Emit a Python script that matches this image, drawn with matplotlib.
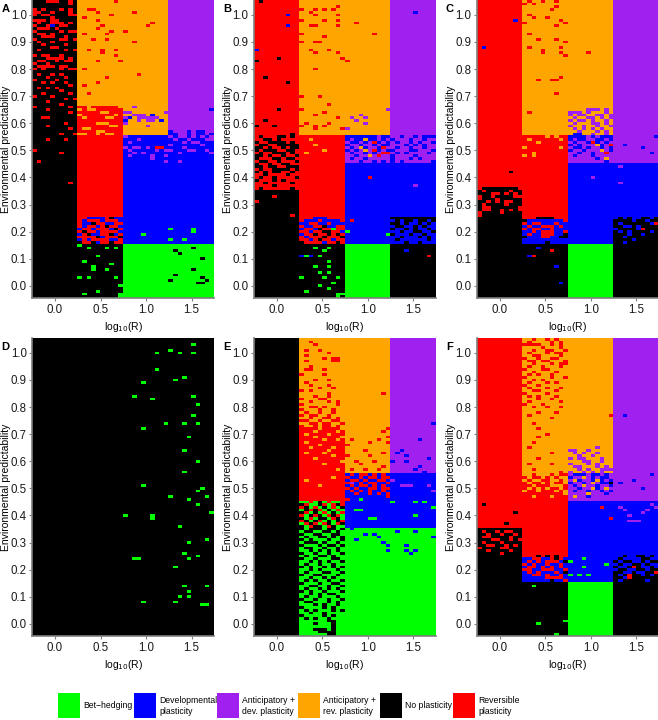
import numpy as np
import matplotlib.pyplot as plt
from matplotlib.colors import ListedColormap
from matplotlib.patches import Rectangle

plt.rcParams['font.family'] = ['Liberation Sans', 'DejaVu Sans']

# strategy categories, in legend order
cat_codes = ['G', 'B', 'P', 'O', 'K', 'R']
cat_labels = ['Bet\u2212hedging', 'Developmental\nplasticity', 'Anticipatory +\ndev. plasticity',
              'Anticipatory +\nrev. plasticity', 'No plasticity', 'Reversible\nplasticity']
cat_colors = ['#00FF00', '#0000FF', '#A020F0', '#FFA500', '#000000', '#FF0000']

# cell centres: log10(R) and environmental predictability
log_r = np.linspace(-0.225, 1.725, 40)
pred = np.linspace(-0.04, 1.05, 110)

x_ticks = [0.0, 0.5, 1.0, 1.5]
y_ticks = [0.0, 0.1, 0.2, 0.3, 0.4, 0.5, 0.6, 0.7, 0.8, 0.9, 1.0]
panel_names = ['A', 'B', 'C', 'D', 'E', 'F']

# ---------------- panel A ----------------
a_blocks = [
    (-0.3, 0.25, -0.05, 1.06, 'K'),
    (0.25, 1.25, 0.655, 1.06, 'O'),
    (0.75, 1.25, 0.555, 0.655, 'O'),
    (0.25, 0.75, 0.155, 0.655, 'R'),
    (0.25, 0.75, -0.05, 0.155, 'K'),
    (0.75, 1.8, 0.155, 0.555, 'B'),
    (1.25, 1.8, 0.555, 1.06, 'P'),
    (0.75, 1.8, -0.05, 0.155, 'G'),
]
a_patches = [
    (-0.225, 1.05, [
        "...RRR..R.", "........R.", "..........", "R.R...R.R.", "RR..R...R.",
        "R.RR....RR", "....R.....", "RRR.RR....", ".R..RRR.R.", "R..RB.RR..",
        ".RRR.R....", "R.....R.RR", ".RR.R.....", "..RRR..R..", "R.....RR.R",
        ".R..R.....", "..R....R..", "....RR....", ".R.....R.R", "..........",
        "R.RR..R...", "...RRRR.R.", ".RR..R.RR.", "R..R......", ".RRRR.RR..",
        "R.R...R.RR", "..........", ".R..R.R...", "...R...R..", "R....R....",
        "..R.R..R..", "........R.", ".R.R.R....", "......R...", "..R.....R.",
        "R...R.....", ".......R.R", "...R......", "......R...", "R.......R.",
        "...R......", "........R.", "..........", "..RR......", "..........",
        ".......R..", "...R......", "........R.", "..........", "......R..R",
        "..........", "...R...R..", "..........", "..........", "..........",
        "R.........", "......R...", "..........", "..........", ".R........",
        ".........."]),
    (0.275, 0.66, [
        "RRORRRRRRO", "OROORRRRRR", "RRRRROORRR", "ORRRRRRROR", "RORRRROORR",
        "RRRRRRRRRR", "RRRROOORRR", "RRRRRRROOR", "ROORRRRRRR", "RRRROORRRR",
        "OORROROORR", "RRRRRRRRRR"]),
    (0.775, 0.66, [
        "..P.......", "..........", "PP.......P", "..PPP.B...", "PB.PPPPP..",
        "B..P.PP.B.", "P.........", ".....P....", "..........", ".........."]),
    (0.775, 0.57, [
        "..........B...B.BB..", "..........BB.PB.BBPB", "P.........P.PP.P.P.P",
        "...P.......P..P...PP", ".P...........P.PP...", "..........P......P..",
        "P.PP.P.RR....P......", ".P.....P.PP...PP..P.", "..P.P.......P......P",
        ".P....P..P..........", "......P.............", ".........P..P......."]),
    (0.275, 0.25, [
        "..BBBB.KBB", ".BRRRBRRRB", "RBBKRRBBRR", "RBRRBRKRRB", "BRRBRRRBKR",
        "RKRRBRRRRB", "BRKBBRRKBR", "RRRRKBRRRK", "BRBRRRRBBR", "KRRKBRRKRR"]),
]
a_specks = [
    (0.175, 0.38, 'R'), (1.725, 0.65, 'B'),
    (0.675, 1.05, 'R'), (0.375, 1.02, 'R'), (0.475, 1.01, 'R'), (0.625, 1.00, 'R'),
    (0.325, 0.99, 'R'), (0.475, 0.98, 'R'), (0.875, 1.01, 'R'), (1.025, 0.96, 'R'),
    (1.075, 0.97, 'R'), (0.475, 0.95, 'R'), (0.625, 0.94, 'R'), (0.775, 0.94, 'R'),
    (0.325, 0.93, 'R'), (0.525, 0.96, 'R'), (0.575, 0.93, 'R'), (0.425, 0.91, 'R'),
    (0.575, 0.91, 'R'), (0.875, 0.90, 'R'), (0.375, 0.87, 'R'), (0.675, 0.87, 'R'),
    (0.525, 0.86, 'R'), (0.475, 0.83, 'R'), (0.675, 0.85, 'R'), (0.725, 0.83, 'R'),
    (0.325, 0.80, 'R'), (0.925, 0.78, 'R'), (0.575, 0.77, 'R'), (0.475, 0.75, 'R'),
    (0.325, 0.74, 'R'), (0.375, 0.71, 'R'), (0.425, 1.02, 'R'), (0.525, 0.87, 'R'),
    (0.975, 0.19, 'G'), (1.275, 0.21, 'G'), (1.275, 0.17, 'G'), (1.525, 0.20, 'G'),
    (1.525, 0.21, 'G'), (1.425, 0.17, 'G'),
    (1.325, 0.13, 'K'), (1.375, 0.12, 'K'), (1.525, 0.14, 'K'), (1.625, 0.10, 'K'),
    (1.525, 0.06, 'K'), (1.325, 0.04, 'K'), (1.275, 0.02, 'K'), (1.625, 0.03, 'K'),
    (1.575, 0.01, 'K'), (1.625, 0.01, 'K'), (1.675, 0.02, 'K'),
    (0.275, 0.15, 'G'), (0.375, 0.14, 'G'), (0.475, 0.11, 'G'), (0.575, 0.14, 'G'),
    (0.675, 0.14, 'G'), (0.325, 0.09, 'G'), (0.425, 0.07, 'G'), (0.575, 0.06, 'G'),
    (0.625, 0.08, 'G'), (0.275, 0.03, 'G'), (0.375, 0.03, 'G'), (0.475, -0.02, 'G'),
    (0.725, 0.00, 'G'), (0.675, 0.03, 'G'), (0.325, -0.03, 'G'), (0.425, 0.06, 'G'),
    (0.725, -0.03, 'G'), (0.725, -0.04, 'G'),
]

# ---------------- panel B ----------------
b_blocks = [
    (-0.3, 0.25, 0.355, 1.06, 'R'),
    (-0.3, 0.25, -0.05, 0.355, 'K'),
    (0.25, 1.25, 0.555, 1.06, 'O'),
    (0.25, 0.75, 0.155, 0.555, 'R'),
    (0.25, 0.75, -0.05, 0.155, 'K'),
    (0.75, 1.8, 0.455, 0.555, 'P'),
    (0.75, 1.8, 0.155, 0.455, 'B'),
    (0.75, 1.25, -0.05, 0.155, 'G'),
    (1.25, 1.8, 0.555, 1.06, 'P'),
    (1.25, 1.8, -0.05, 0.155, 'K'),
]
b_patches = [
    (-0.225, 0.56, [
        "........K.", ".K...KK.K.", "..KK.K....", "K..KKKK.K.", ".KK..KKKKK",
        "KK.K..K.KK", "K.KKK..KK.", ".K..KKK.K.", "KK.K..K..K", "K...KK.KK.",
        ".KK..K...K", "K..K..KK..", "KK.KK..KKK", ".K..KKKK.K", "K.K.KK..K.",
        "..K....K..", ".K..K....K", "K...K.K...", "..K.....K.", "....K.....",
        ".K......K."]),
    (0.775, 0.55, [
        "BBBBBBB.BB..B..B.BBB", "B.BBOBB.B.B...B..B..", ".BB.B.RB.B.B..B.B..B",
        "B..B..B.BB...B.B.B..", ".B.OB..BR..B..B..B..", "B.B.O.RB.BB...BB...B",
        ".B..B.B.RR.B.B....B.", "..B..O.R..B....B....", ".B..B.....B...B.B...",
        "...B..B.B.B.B......B"]),
    (0.275, 0.25, [
        "...BBB....", ".BBB.BBBB.", "BBRRBBRBBB", "RBBRRKBBRR", "BRRBKRRGRR",
        "RRBRRKKRRB", "BRRKRRKRKR", "RBRRRKRRRK", "RRBRKRRBRR", "KRRRRBRRKR"]),
    (1.275, 0.25, [
        "KKKKKKKKKK", "BKBKKBKKBK", "KKBKBBKBKB", "BKKBBKBKBB", "KBBKBKBBKB",
        "BBKBBKKBBK", "KBBBKBBKBB", "BBKBBBKBKB", "BKBBBBBBKB", "BBBKBBKBBB"]),
]
b_specks = [
    (-0.175, 1.05, 'K'), (0.125, 1.00, 'B'), (0.125, 0.96, 'B'), (-0.225, 0.87, 'B'),
    (-0.225, 0.83, 'K'), (0.025, 0.84, 'K'), (-0.125, 0.77, 'K'), (0.125, 0.75, 'K'),
    (0.025, 0.65, 'K'), (-0.125, 0.61, 'K'), (-0.025, 0.59, 'K'), (-0.225, 0.59, 'K'),
    (-0.225, 0.31, 'R'), (-0.025, 0.33, 'R'), (0.175, 0.26, 'R'),
    (0.275, 1.02, 'R'), (0.375, 1.01, 'R'), (0.425, 1.02, 'R'), (0.425, 1.00, 'R'),
    (0.525, 1.02, 'R'), (0.625, 1.02, 'R'), (0.675, 1.03, 'R'), (0.675, 1.00, 'R'),
    (0.675, 0.98, 'R'), (0.675, 0.96, 'R'), (0.275, 0.98, 'R'), (0.375, 0.96, 'R'),
    (0.425, 0.96, 'R'), (0.525, 0.98, 'R'), (0.875, 0.97, 'R'), (1.075, 0.93, 'R'),
    (0.275, 0.93, 'R'), (0.525, 0.92, 'R'), (0.275, 0.90, 'R'), (0.425, 0.90, 'R'),
    (0.475, 0.90, 'R'), (0.375, 0.87, 'R'), (0.425, 0.86, 'R'), (0.575, 0.87, 'R'),
    (0.675, 0.86, 'R'), (0.725, 0.84, 'R'), (0.775, 0.83, 'R'), (0.425, 0.80, 'R'),
    (0.275, 0.70, 'R'), (0.475, 0.70, 'R'), (0.575, 0.67, 'R'), (0.275, 0.65, 'R'),
    (0.425, 0.63, 'R'), (0.525, 0.64, 'R'), (0.675, 0.62, 'R'), (0.275, 0.59, 'R'),
    (0.425, 0.59, 'R'), (0.525, 0.59, 'R'), (0.575, 0.60, 'R'), (0.725, 0.58, 'R'),
    (0.425, 0.58, 'R'), (0.325, 0.60, 'R'),
    (0.825, 0.62, 'P'), (0.925, 0.63, 'P'), (0.975, 0.62, 'P'), (0.875, 0.61, 'P'),
    (0.775, 0.58, 'P'), (1.225, 0.65, 'P'), (0.975, 0.60, 'P'),
    (0.375, 0.54, 'O'), (0.425, 0.52, 'O'), (0.525, 0.50, 'O'), (0.325, 0.49, 'O'),
    (0.425, 0.14, 'G'), (0.525, 0.13, 'G'), (0.575, 0.14, 'G'), (0.275, 0.11, 'B'),
    (0.325, 0.11, 'G'), (0.375, 0.11, 'B'), (0.475, 0.11, 'G'), (0.575, 0.09, 'G'),
    (0.425, 0.07, 'G'), (0.575, 0.07, 'G'), (0.275, 0.03, 'G'), (0.475, 0.05, 'G'),
    (0.575, 0.05, 'G'), (0.525, 0.03, 'G'), (0.675, 0.03, 'G'), (0.625, 0.01, 'G'),
    (0.325, -0.02, 'G'), (0.475, 0.00, 'G'), (0.575, -0.01, 'G'), (0.675, -0.04, 'G'),
    (0.675, -0.03, 'G'), (0.725, -0.03, 'G'),
    (0.825, 0.24, 'R'), (1.225, 0.19, 'G'), (1.425, 0.13, 'B'), (1.675, 0.11, 'R'),
    (1.525, 0.37, 'P'), (1.025, 0.40, 'R'), (1.525, 1.01, 'B'), (0.775, 0.20, 'G'),
]

# ---------------- panel C ----------------
c_blocks = [
    (-0.3, 0.25, 0.355, 1.06, 'R'),
    (-0.3, 0.25, -0.05, 0.355, 'K'),
    (0.25, 1.25, 0.555, 1.06, 'O'),
    (0.25, 0.75, 0.245, 0.555, 'R'),
    (0.25, 0.75, 0.155, 0.245, 'B'),
    (0.25, 0.75, -0.05, 0.155, 'K'),
    (0.75, 1.8, 0.455, 0.555, 'P'),
    (0.75, 1.25, 0.155, 0.455, 'B'),
    (0.75, 1.25, -0.05, 0.155, 'G'),
    (1.25, 1.8, 0.555, 1.06, 'P'),
    (1.25, 1.8, 0.255, 0.455, 'B'),
    (1.25, 1.8, -0.05, 0.255, 'K'),
]
c_patches = [
    (-0.225, 0.36, [
        "RKKKKKKKKR", ".R.....R..", "...RR.R.R.", "R..R....RR", "R...R.....",
        "..R.R.RR..", ".R....R...", ".RR......R", ".RR..R.R.R", "R....R....",
        "R........."]),
    (0.275, 0.25, [
        "RRRKKKKRRR", "KB..BB.B.R", "R.RR...R..", ".R..RRR.R.", "R.RR..R...",
        "..R.RRR..R", ".R..RRR..K", "K...RR..KK", "..........", ".....K...."]),
    (0.775, 0.65, [
        "....PPP.P.", "PPP.P...P.", "P.PP..PP.P", ".P..PP.P.P", "P.PP.P..P.",
        ".P...PP.P.", "P..P..P..P", ".P.P.P.P..", "..P...P.P.", ".BB..P..P."]),
    (0.775, 0.55, [
        "BBBB.B.BBB", "B.BB..BB.B", ".B..BRB.B.", "B.B...OB.R", ".BB.B..B.B",
        "B..B...O.B", "..B..B..R.", ".B...B....", "......B.O.", "........B."]),
    (1.275, 0.25, [
        "B.B.BB..B.", "....B..B..", ".B......BR", "..BB.B....", "B....BR...",
        ".B.B....B.", "...B..B...", "..B.......", "....B.....", "..B......."]),
]
c_specks = [
    (0.175, 0.98, 'B'), (-0.175, 0.88, 'B'), (0.125, 0.42, 'K'),
    (0.275, 1.04, 'R'), (0.325, 1.05, 'R'), (0.375, 1.04, 'R'), (0.475, 1.05, 'R'),
    (0.625, 1.05, 'R'), (0.575, 1.02, 'R'), (0.625, 1.03, 'R'), (0.325, 1.00, 'R'),
    (0.375, 0.99, 'R'), (0.525, 0.99, 'R'), (0.275, 0.97, 'R'), (0.725, 0.97, 'R'),
    (0.625, 0.96, 'R'), (0.325, 0.93, 'R'), (0.425, 0.91, 'R'), (0.625, 0.91, 'R'),
    (0.725, 0.90, 'R'), (0.475, 0.87, 'R'), (0.475, 0.86, 'R'), (0.675, 0.88, 'R'),
    (0.675, 0.86, 'R'), (0.725, 0.85, 'R'), (0.325, 0.88, 'R'), (0.975, 0.86, 'R'),
    (0.425, 0.76, 'R'), (0.575, 0.76, 'R'), (0.625, 0.76, 'R'), (0.675, 0.77, 'R'),
    (0.625, 0.71, 'R'), (0.325, 0.64, 'R'), (0.675, 0.98, 'R'),
    (0.325, 0.54, 'O'), (0.275, 0.51, 'O'), (0.375, 0.49, 'O'), (0.425, 0.53, 'O'),
    (0.525, 0.55, 'O'), (0.625, 0.55, 'O'), (0.675, 0.51, 'O'), (0.375, 0.48, 'O'),
    (0.275, 0.48, 'O'), (0.675, 0.54, 'O'),
    (0.325, 0.11, 'B'), (0.375, 0.11, 'R'), (0.575, 0.13, 'R'), (0.625, 0.07, 'B'),
    (0.675, 0.01, 'B'), (0.425, 0.14, 'B'),
    (1.375, 0.52, 'B'), (1.675, 0.49, 'B'), (1.575, 0.51, 'B'), (1.725, 0.55, 'B'),
    (1.325, 0.44, 'P'), (1.325, 0.38, 'P'), (1.025, 0.40, 'P'),
]

# ---------------- panel D ----------------
d_blocks = [(-0.3, 1.8, -0.05, 1.06, 'K')]
d_patches = []
d_green_x = [1.525, 1.125, 1.275, 1.375, 1.525, 1.125, 1.325, 1.425, 0.975, 0.875,
             1.075, 1.525, 1.575, 1.525, 1.225, 1.425, 1.575, 0.975, 1.475, 1.425,
             1.575, 1.425, 0.975, 1.625, 1.575, 1.275, 1.675, 1.475, 1.575, 0.775,
             1.075, 1.075, 1.725, 1.375, 1.475, 1.675, 1.425, 1.575, 1.475, 0.875,
             0.925, 1.325, 1.425, 1.675, 1.375, 1.475, 1.475, 1.325, 0.975, 1.625,
             1.675]
d_green_y = [1.03, 1.00, 1.01, 1.00, 1.00, 0.94, 0.90, 0.91, 0.89, 0.84,
             0.83, 0.84, 0.81, 0.77, 0.74, 0.74, 0.74, 0.72, 0.69, 0.64,
             0.60, 0.56, 0.51, 0.50, 0.49, 0.47, 0.47, 0.46, 0.44, 0.40,
             0.39, 0.40, 0.41, 0.36, 0.30, 0.31, 0.26, 0.25, 0.24, 0.24,
             0.24, 0.21, 0.14, 0.14, 0.10, 0.12, 0.10, 0.08, 0.08, 0.07,
             0.07]
d_specks = [(x, y, 'G') for x, y in zip(d_green_x, d_green_y)]

# ---------------- panel E ----------------
e_blocks = [
    (-0.3, 0.25, -0.05, 1.06, 'K'),
    (0.25, 1.25, 0.555, 1.06, 'O'),
    (0.25, 0.75, 0.355, 0.555, 'R'),
    (0.25, 1.8, -0.05, 0.355, 'G'),
    (0.75, 1.8, 0.355, 0.555, 'B'),
    (1.25, 1.8, 0.555, 1.06, 'P'),
]
e_patches = [
    (0.275, 1.05, [
        "..........", "..R.......", "...R......", "..........", ".R..R.....",
        "......R...", ".R........", ".....R.RR.", ".R.....RR.", "..........",
        "..R.......", ".RR..R....", "..........", "R....R....", "..........",
        "...R..R...", ".R........", "..R...R...", "....R..R..", "R.R.......",
        "......R...", "...R..R...", "R...RR....", "..R...R.R.", "R.......R.",
        "..RR.R....", "R...R..R..", ".R..R..R..", "R.RR..R...", "..R..RR.R.",
        "RR..R..RR.", "..RR.RR..R", "R..R.RR.R.", "RRRR.RRRR.", "RRR.RRRR.R",
        "R.RRRR.RRR", "RRR.RRRRR.", "RRRRR.RR.R", "R.RRRRRRRR", "RRRR.RRRRR",
        "RR.RRRR.RR", "RRRRRR.RRR", "R.RRR.RRRR", "RRRRRRR.RR", "RRR.RRRRRR",
        "RRRRRRRRR.", "RRRRR.RRRR", "RRRRRRRRRR", "RRRRRRRR.R", "RRRRRRRRRR"]),
    (0.275, 0.45, [
        "GG.GKG.GG.", "K.GGK.G.K.", ".KG.GKG.GK", "GK.K.GKG.G", "K.GKG.GKG.",
        ".GK.KG.K.G", "KG.GKKG.KG", ".KGK.GKGK.", "G.K.G.KG.K", "KG.KKG.KGG"]),
    (0.275, 0.35, [
        "K.KKK.KK.K", ".KK..KK.K.", "K..KK..KK.", ".K..KK.K.K", "K.K...K..K",
        ".KKK.K..K.", "K...K.KK.K", ".KK..K..K.", "..K.K.K.K.", "K..K..K..K",
        ".K..KK.K..", "K..K...KK.", "..K.K.K..K", ".K..K..K..", "K.K..K.K.K",
        "..K.K...K.", ".K...KK..K", "K..KK...K.", "..K..K.K..", ".K.K..K..K",
        "K...K..KK.", "..KK..K..K", ".K..K.K.K.", "K.K..K...K", "..K.K.KK..",
        ".K..K...K.", "K..K..K..K", ".KK...K.K.", "...K.K..K.", "K....K.K..",
        ".K.K...K.K", "..K..K....", "K....K.K..", ".K.K..K...", "......KK..",
        "...K...K..", ".......K..", "...KKK.K..", "....KKKK..", "......KK.."]),
    (0.775, 0.55, [
        ".R.RR.R.R.", "R..R.RR.RR", ".RR.R..RR.", "RP.R.RR..R", ".R.RR.R.R.",
        "R.R..RR.RR", ".R.R.R..R.", "..R..R.R.R", ".........R", "R..G......"]),
]
e_specks = [
    (0.325, 0.53, 'O'), (0.475, 0.51, 'O'), (0.625, 0.54, 'O'),
    (1.175, 0.85, 'R'), (1.175, 0.71, 'R'), (1.225, 0.69, 'R'), (1.125, 0.68, 'R'),
    (1.025, 0.67, 'R'), (0.975, 0.64, 'R'), (0.875, 0.60, 'R'), (0.825, 0.68, 'R'),
    (0.925, 0.59, 'R'), (1.025, 0.62, 'R'), (1.175, 0.63, 'R'), (1.225, 0.67, 'R'),
    (1.175, 0.58, 'R'), (0.775, 0.66, 'R'), (0.775, 0.62, 'R'), (0.825, 0.57, 'R'),
    (1.075, 0.60, 'R'), (1.125, 0.57, 'R'), (0.975, 0.57, 'R'), (1.225, 0.72, 'R'),
    (1.575, 0.68, 'B'), (1.375, 0.64, 'B'), (1.325, 0.63, 'B'), (1.425, 0.62, 'B'),
    (1.425, 0.60, 'B'), (1.575, 0.58, 'B'), (1.675, 0.61, 'B'), (1.725, 0.74, 'B'),
    (1.275, 0.60, 'B'), (1.525, 0.57, 'B'), (1.625, 0.56, 'B'),
    (1.375, 0.51, 'P'), (1.425, 0.51, 'P'), (1.475, 0.51, 'P'), (1.675, 0.51, 'P'),
    (1.725, 0.49, 'P'), (1.275, 0.53, 'P'),
    (1.275, 0.45, 'G'), (1.525, 0.45, 'G'), (1.625, 0.45, 'G'), (1.525, 0.40, 'G'),
    (1.025, 0.39, 'G'), (1.075, 0.39, 'G'), (0.875, 0.42, 'G'), (0.925, 0.42, 'G'),
    (1.725, 0.43, 'G'),
    (0.975, 0.33, 'B'), (1.075, 0.33, 'B'), (1.125, 0.32, 'B'), (1.175, 0.30, 'B'),
    (1.225, 0.29, 'B'), (1.225, 0.27, 'B'), (1.325, 0.34, 'B'), (1.425, 0.29, 'B'),
    (1.425, 0.27, 'B'), (1.475, 0.26, 'B'), (1.525, 0.27, 'B'), (1.525, 0.34, 'B'),
    (1.725, 0.32, 'B'), (0.825, 0.35, 'B'), (0.875, 0.31, 'B'),
]

# ---------------- panel F ----------------
f_blocks = [
    (-0.3, 0.25, 0.355, 1.06, 'R'),
    (-0.3, 0.25, -0.05, 0.355, 'K'),
    (0.25, 1.25, 0.555, 1.06, 'O'),
    (0.25, 0.75, 0.245, 0.555, 'R'),
    (0.25, 0.75, 0.155, 0.245, 'B'),
    (0.25, 0.75, -0.05, 0.155, 'K'),
    (0.75, 1.8, 0.455, 0.555, 'P'),
    (0.75, 1.25, 0.155, 0.455, 'B'),
    (0.75, 1.25, -0.05, 0.155, 'G'),
    (1.25, 1.8, 0.555, 1.06, 'P'),
    (1.25, 1.8, 0.255, 0.455, 'B'),
    (1.25, 1.8, -0.05, 0.255, 'K'),
]
f_patches = [
    (-0.225, 0.34, [
        ".R..R.RR..", "..R..R..R.", ".RR....R..", "...RR..R.R", ".R...R....",
        "..RR..R.R.", "R....RR...", "..R....R..", ".....R...."]),
    (0.275, 1.05, [
        "..R..R.R..", ".R....R.R.", "RRRR..R.R.", "....R...R.", "..R..RR..R",
        ".R...R.RR.", "..RR....R.", "R..R..RR..", ".RR.RR...R", "..R...R.RR",
        ".R..R...R.", "R...RR....", "..R....R..", ".R.R..R...", "R.....R..R",
        "..R.R.....", ".R...R.R..", "R..R......", ".R...R..R.", "..RR...R..",
        "R....R....", ".R.R...R..", "...R..R...", ".R......R.", "R...R.....",
        "..R..R..R.", "..........", "...R...R..", ".R........", "......R...",
        "..........", "..R.......", "..........", "...R......", "..........",
        ".....R....", "...R......", "..........", "..R.......", "..........",
        ".R........", "..........", "......R...", "..........", "...R......",
        "..........", ".R....R...", "..........", "..R.......", "........R."]),
    (0.275, 0.55, [
        "OO.OOO.O..", ".O..O.O.OO", "O.OO..OO.O", ".O..O.O..O", "..O...OOO.",
        ".O.O.O..O.", "O..O...O.O", ".........O", "..O...O...", ".........."]),
    (0.275, 0.25, [
        "...K.K.K..", "..RR..RKR.", ".R.R.RRR.K", "R.R..R..R.", ".RR.R.R.R.",
        "RR..RRR..R", ".R.R...R.K", "..RR.R..R.", ".B...RRRR.", "......K..R"]),
    (0.775, 0.65, [
        "......P...", "PP..P.....", ".P.P..P...", "..P..P....", "P.PP...P..",
        "...PP..P..", "P...P.P...", ".PP...P.P.", "..P.P..PPP", "P..P.P.P.."]),
    (0.775, 0.55, [
        ".BBB.BB.B.", "B..O.B.BB.", ".OB..BOB.B", "B..B.O.BBK", ".B.O..B..B",
        "..B..OB.O.", ".B..B..B.B", "....O...B.", ".O..B.....", ".........."]),
    (1.275, 0.25, [
        "BB.BB..B.B", "B.BBBB..BB", ".B..BB.B..", "B.BB..B.BB", ".BB.R.BB.B",
        "B..BB..B..", "..BB.BB..R", ".B.R..B.B.", "..BR......", ".B.....B.."]),
]
f_specks = [
    (-0.175, 0.44, 'K'), (0.175, 0.41, 'K'), (0.075, 0.37, 'K'),
    (1.225, 0.77, 'R'), (1.375, 0.77, 'B'),
    (1.675, 0.55, 'B'), (1.575, 0.50, 'B'), (1.475, 0.53, 'B'), (1.325, 0.52, 'B'),
    (1.325, 0.43, 'P'), (1.375, 0.42, 'P'), (1.425, 0.40, 'P'), (1.475, 0.38, 'P'),
    (1.525, 0.38, 'P'), (1.575, 0.41, 'P'), (1.625, 0.42, 'P'), (1.675, 0.44, 'P'),
    (1.725, 0.43, 'P'), (1.425, 0.38, 'P'),
    (1.125, 0.43, 'R'), (1.225, 0.39, 'R'),
    (0.775, 0.23, 'G'), (0.925, 0.24, 'G'), (0.925, 0.21, 'G'), (0.875, 0.18, 'G'),
    (0.775, 0.18, 'G'), (1.175, 0.22, 'G'), (0.975, 0.18, 'G'),
    (0.375, 0.14, 'G'), (0.425, 0.00, 'G'), (0.625, -0.04, 'G'), (0.725, 0.01, 'G'),
]


def build(blocks, patches, specks):
    g = np.full((len(pred), len(log_r)), cat_codes.index('K'))
    for x0, x1, y0, y1, c in blocks:
        mx = (log_r > x0) & (log_r < x1)
        my = (pred > y0) & (pred < y1)
        g[np.ix_(my, mx)] = cat_codes.index(c)
    for x, ytop, rows in patches:
        i0 = int(round((x - log_r[0]) / 0.05))
        for k, row in enumerate(rows):
            j = int(round((ytop - 0.01 * k - pred[0]) / 0.01))
            for c, ch in enumerate(row):
                if ch != '.' and 0 <= j < len(pred) and i0 + c < len(log_r):
                    g[j, i0 + c] = cat_codes.index(ch)
    for x, y, ch in specks:
        j = int(round((y - pred[0]) / 0.01))
        i = int(round((x - log_r[0]) / 0.05))
        g[j, i] = cat_codes.index(ch)
    return g


grids = [
    build(a_blocks, a_patches, a_specks),
    build(b_blocks, b_patches, b_specks),
    build(c_blocks, c_patches, c_specks),
    build(d_blocks, d_patches, d_specks),
    build(e_blocks, e_patches, e_specks),
    build(f_blocks, f_patches, f_specks),
]

W, H = 658, 720
fig = plt.figure(figsize=(W / 100, H / 100), dpi=100)
cmap = ListedColormap(cat_colors)
col_left = [32.3, 254, 477]
row_top = [0, 338]
aw, ah = 182, 298
grey = '#7f7f7f'

for n, g in enumerate(grids):
    L = col_left[n % 3]
    T = row_top[n // 3]
    ax = fig.add_axes([L / W, 1 - (T + ah) / H, aw / W, ah / H])
    ax.imshow(g, cmap=cmap, vmin=-0.5, vmax=5.5, origin='lower', aspect='auto',
              interpolation='nearest',
              extent=[log_r[0] - 0.025, log_r[-1] + 0.025, pred[0] - 0.005, pred[-1] + 0.005])
    ax.set_xlim(-0.25, 1.75)
    ax.set_ylim(-0.045, 1.055)
    ax.set_xticks(x_ticks)
    ax.set_xticklabels(['%.1f' % v for v in x_ticks])
    ax.set_yticks(y_ticks)
    ax.set_yticklabels(['%.1f' % v for v in y_ticks])
    for s in ['top', 'right']:
        ax.spines[s].set_visible(False)
    for s in ['left', 'bottom']:
        ax.spines[s].set_color(grey)
        ax.spines[s].set_linewidth(1.2)
    ax.tick_params(colors=grey, labelcolor='#1a1a1a', length=2.5, width=0.8,
                   labelsize=8.3, pad=1.5)
    ax.set_xlabel('log$_{10}$(R)', fontsize=7.5, labelpad=3)
    ax.set_ylabel('Environmental predictability', fontsize=7.5)
    ax.yaxis.set_label_coords(-21.0 / aw, 0.5)
    fig.text((L - 31) / W, 1 - (T + 9) / H, panel_names[n], fontsize=8,
             fontweight='bold', ha='left', va='center')

# legend drawn in figure pixel space
lg = fig.add_axes([0, 0, 1, 1], zorder=-1)
lg.set_xlim(0, W)
lg.set_ylim(H, 0)
lg.axis('off')
box_x = [58, 134, 217, 298, 380, 453]
for bx, col, lab in zip(box_x, cat_colors, cat_labels):
    lg.add_patch(Rectangle((bx, 693), 22, 25, facecolor=col, edgecolor='none'))
    lg.text(bx + 25, 706, lab, fontsize=6.2, ha='left', va='center', linespacing=1.3)

fig.savefig('out.png', dpi=100)
